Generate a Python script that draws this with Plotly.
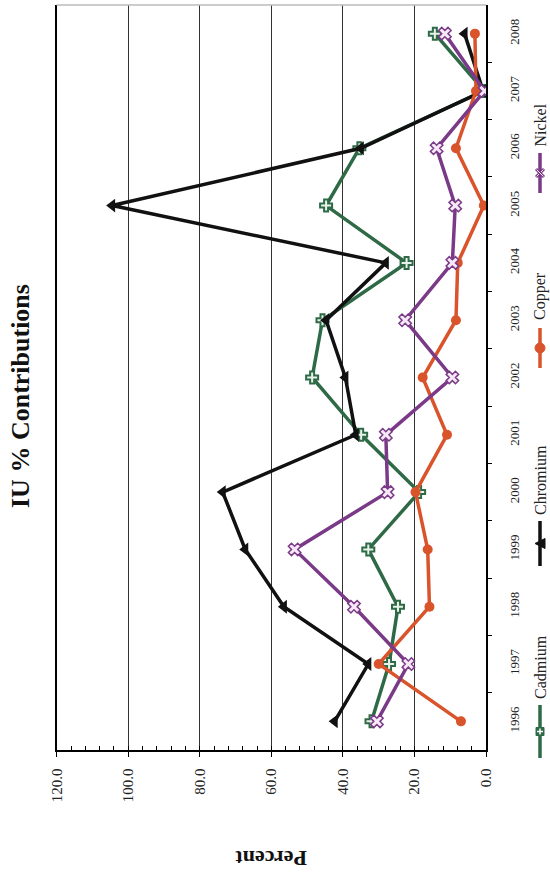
import plotly.graph_objects as go

years = [1996, 1997, 1998, 1999, 2000, 2001, 2002, 2003, 2004, 2005, 2006, 2007, 2008]
cadmium = [32.0, 27.1, 24.6, 32.9, 18.7, 34.9, 48.6, 45.7, 22.2, 44.7, 35.4, 0.5, 14.3]
chromium = [42.3, 32.9, 56.5, 67.3, 73.6, 36.4, 39.3, 44.7, 28.0, 104.5, 35.0, 0.8, 6.0]
copper = [7.0, 30.0, 15.8, 16.3, 19.7, 10.9, 17.7, 8.4, 7.9, 0.6, 8.4, 2.8, 3.1]
nickel = [30.5, 21.7, 36.9, 53.5, 27.5, 28.0, 9.4, 22.6, 9.4, 8.6, 13.8, 0.4, 11.5]

pct_ticks = [0, 20, 40, 60, 80, 100, 120]
series_names = ["Cadmium", "Chromium", "Copper", "Nickel"]

W, H = 550, 873
GREEN = "#2f6a47"
BLACK = "#111111"
ORANGE = "#d9532b"
PURPLE = "#7a3a87"
SERIF = "Liberation Serif, Times New Roman, serif"


def px(x):
    return x / W


def py(y):
    return 1 - y / H


fig = go.Figure()
fig.add_trace(go.Scatter(x=cadmium, y=years, name="Cadmium", mode="lines+markers",
                         line=dict(color=GREEN, width=3.5),
                         marker=dict(symbol="cross", size=10, color="#e8f2ea",
                                     line=dict(color=GREEN, width=2))))
fig.add_trace(go.Scatter(x=chromium, y=years, name="Chromium", mode="lines+markers",
                         line=dict(color=BLACK, width=3.5),
                         marker=dict(symbol="triangle-left", size=12, color=BLACK)))
fig.add_trace(go.Scatter(x=copper, y=years, name="Copper", mode="lines+markers",
                         line=dict(color=ORANGE, width=3.5),
                         marker=dict(symbol="circle", size=10, color=ORANGE)))
fig.add_trace(go.Scatter(x=nickel, y=years, name="Nickel", mode="lines+markers",
                         line=dict(color=PURPLE, width=3.5),
                         marker=dict(symbol="x", size=11, color="#f6e8f6",
                                     line=dict(color=PURPLE, width=1.5))))

x0p, x1p = 56.7, 486.0
y0p, y1p = 5.0, 750.0

fig.update_layout(
    width=W, height=H, autosize=False,
    margin=dict(l=0, r=0, t=0, b=0, pad=0),
    paper_bgcolor="white", plot_bgcolor="white",
    showlegend=False,
    xaxis=dict(domain=[px(x0p), px(x1p)], range=[120, 0], tickmode="array",
               tickvals=pct_ticks, ticktext=[f"{v:.1f}" for v in pct_ticks],
               tickangle=-90, ticks="outside", ticklen=5, tickcolor="black",
               tickfont=dict(family=SERIF, size=15, color="#222"),
               ticklabelstandoff=6,
               showline=True, linecolor="black", linewidth=1.5,
               showgrid=True, gridcolor="#333", gridwidth=1, zeroline=False,
               minor=dict(dtick=4, tick0=0, ticks="inside", ticklen=4,
                          tickcolor="black", showgrid=False),
               automargin=False, fixedrange=True),
    yaxis=dict(domain=[py(y1p), py(y0p)], range=[1995.5, 2008.5], side="right",
               tickmode="array", tickvals=years, ticktext=[str(y) for y in years],
               tickangle=-90, ticks="", ticklen=0,
               tickfont=dict(family=SERIF, size=13, color="#222"),
               ticklabelstandoff=16,
               showline=True, linecolor="black", linewidth=1.5, mirror=True,
               showgrid=False, zeroline=False,
               minor=dict(tickvals=[y + 0.5 for y in years[:-1]], ticks="outside",
                          ticklen=4, tickcolor="black", showgrid=False),
               automargin=False, fixedrange=True),
)

shapes = []
# faint top border
shapes.append(dict(type="line", xref="paper", yref="paper", x0=px(x0p), x1=px(x1p),
                   y0=py(y0p), y1=py(y0p), line=dict(color="#bbbbbb", width=1.5)))

annotations = []
annotations.append(dict(text="<b>IU % Contributions</b>", xref="paper", yref="paper",
                        x=px(21), y=py(396), textangle=-90, showarrow=False,
                        xanchor="center", yanchor="middle",
                        font=dict(family=SERIF, size=26, color="#111")))
annotations.append(dict(text="<b>Percent</b>", xref="paper", yref="paper",
                        x=px(271.5), y=py(859), textangle=180, showarrow=False,
                        xanchor="center", yanchor="middle",
                        font=dict(family=SERIF, size=22, color="#111")))

# legend (rotated), drawn manually
LX = 540
legend_items = [
    ("Cadmium", GREEN, 701, 705, 758),
    ("Chromium", BLACK, 517, 521, 566),
    ("Copper", ORANGE, 322, 328, 368),
    ("Nickel", PURPLE, 149, 153, 193),
]
for name, col, tb, l0, l1 in legend_items:
    annotations.append(dict(text=name, xref="paper", yref="paper", x=px(LX), y=py(tb),
                            textangle=-90, showarrow=False, xanchor="center",
                            yanchor="bottom",
                            font=dict(family=SERIF, size=16, color="#222")))
    shapes.append(dict(type="line", xref="paper", yref="paper", x0=px(LX), x1=px(LX),
                       y0=py(l0), y1=py(l1), line=dict(color=col, width=3.5)))
    cy = (l0 + l1) / 2
    if name == "Cadmium":
        shapes.append(dict(type="rect", xref="paper", yref="paper",
                           x0=px(LX - 4), x1=px(LX + 4), y0=py(cy - 4), y1=py(cy + 4),
                           fillcolor=GREEN, line=dict(color=GREEN, width=1)))
        shapes.append(dict(type="line", xref="paper", yref="paper",
                           x0=px(LX - 3), x1=px(LX + 3), y0=py(cy), y1=py(cy),
                           line=dict(color="white", width=1.5)))
        shapes.append(dict(type="line", xref="paper", yref="paper",
                           x0=px(LX), x1=px(LX), y0=py(cy - 3), y1=py(cy + 3),
                           line=dict(color="white", width=1.5)))
    elif name == "Chromium":
        path = (f"M {px(LX - 5)},{py(cy)} L {px(LX + 5)},{py(cy - 5)} "
                f"L {px(LX + 5)},{py(cy + 5)} Z")
        shapes.append(dict(type="path", xref="paper", yref="paper", path=path,
                           fillcolor=BLACK, line=dict(color=BLACK, width=1)))
    elif name == "Copper":
        shapes.append(dict(type="circle", xref="paper", yref="paper",
                           x0=px(LX - 5), x1=px(LX + 5), y0=py(cy - 5), y1=py(cy + 5),
                           fillcolor=ORANGE, line=dict(color=ORANGE, width=1)))
    else:
        for dx in (-1, 1):
            shapes.append(dict(type="line", xref="paper", yref="paper",
                               x0=px(LX - 4), x1=px(LX + 4),
                               y0=py(cy - 4 * dx), y1=py(cy + 4 * dx),
                               line=dict(color=PURPLE, width=3)))
            shapes.append(dict(type="line", xref="paper", yref="paper",
                               x0=px(LX - 3.5), x1=px(LX + 3.5),
                               y0=py(cy - 3.5 * dx), y1=py(cy + 3.5 * dx),
                               line=dict(color="#f6e8f6", width=1)))

fig.update_layout(shapes=shapes, annotations=annotations)
fig.write_html("out.html",
               config={"displayModeBar": False, "staticPlot": True},
               post_script="document.body.style.margin='0px';"
                           "document.body.style.overflow='hidden';")
